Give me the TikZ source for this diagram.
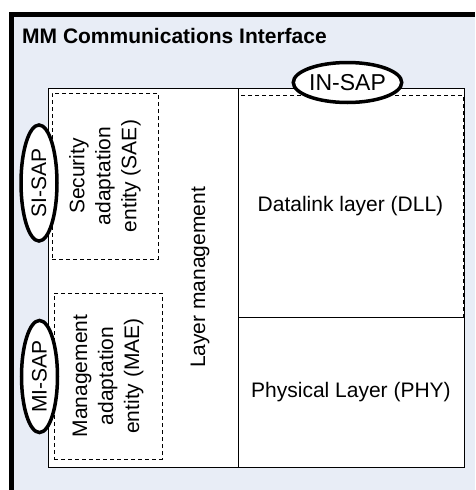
\documentclass[tikz,border=0pt]{standalone}
\usepackage{fontspec}
\setmainfont{Liberation Sans}
\usetikzlibrary{shapes.geometric}
\definecolor{bgfill}{RGB}{232,237,246}
\begin{document}
\begin{tikzpicture}[x=1pt,y=-1pt,
  lbl/.style={font=\fontsize{21}{26}\selectfont, align=center, inner sep=0pt},
  dbox/.style={draw, dash pattern=on 4pt off 3pt, line width=0.8pt, inner sep=0pt},
  solidbox/.style={draw, line width=1pt, fill=white, inner sep=0pt},
  sap/.style={draw, ellipse, line width=3.5pt, fill=white, inner sep=0pt, font=\fontsize{21}{25}\selectfont}]
\useasboundingbox (0,0) rectangle (475,490);
% outer interface frame (clipped at right and bottom)
\fill[bgfill] (11,14) rectangle (475,490);
\draw[line width=5pt, line join=miter] (11,490) -- (11,14) -- (475,14);
\node[anchor=base west, inner sep=0pt, font=\bfseries\fontsize{21}{25}\selectfont] (title) at (22,43) {MM Communications Interface};
% inner stack
\node[solidbox, minimum width=416pt, minimum height=379pt] (stack) at (256,277.5) {};
\node[solidbox, minimum width=226pt, minimum height=379pt] (right) at (351,277.5) {};
\node[solidbox, minimum width=226pt, minimum height=150pt] (phybox) at (351,392) {};
\node[lbl] (phy) at (phybox.center) {Physical Layer (PHY)};
\node[dbox, minimum width=225pt, minimum height=222pt] (dll) at (350.5,206) {};
\node[lbl] (dlltext) at (dll.center) {Datalink layer (DLL)};
\node[dbox, minimum width=106pt, minimum height=166pt] (sae) at (105,176) {};
\node[lbl, rotate=90] (saetext) at (sae.center) {Security\\adaptation\\entity (SAE)};
\node[dbox, minimum width=108pt, minimum height=166pt] (mae) at (108,376) {};
\node[lbl, rotate=90] (maetext) at (mae.center) {Management\\adaptation\\entity (MAE)};
\node[lbl, rotate=90] (lm) at (200,277.5) {Layer management};
% service access points
\node[sap, minimum width=106pt, minimum height=40pt, font=\fontsize{23}{26}\selectfont] (insap) at (347.5,82.5) {IN-SAP};
\node[sap, rotate=90, minimum width=116pt, minimum height=36pt] (sisap) at (39,183) {SI-SAP};
\node[sap, rotate=90, minimum width=112pt, minimum height=36pt] (misap) at (39.5,376.5) {MI-SAP};
\end{tikzpicture}
\end{document}
